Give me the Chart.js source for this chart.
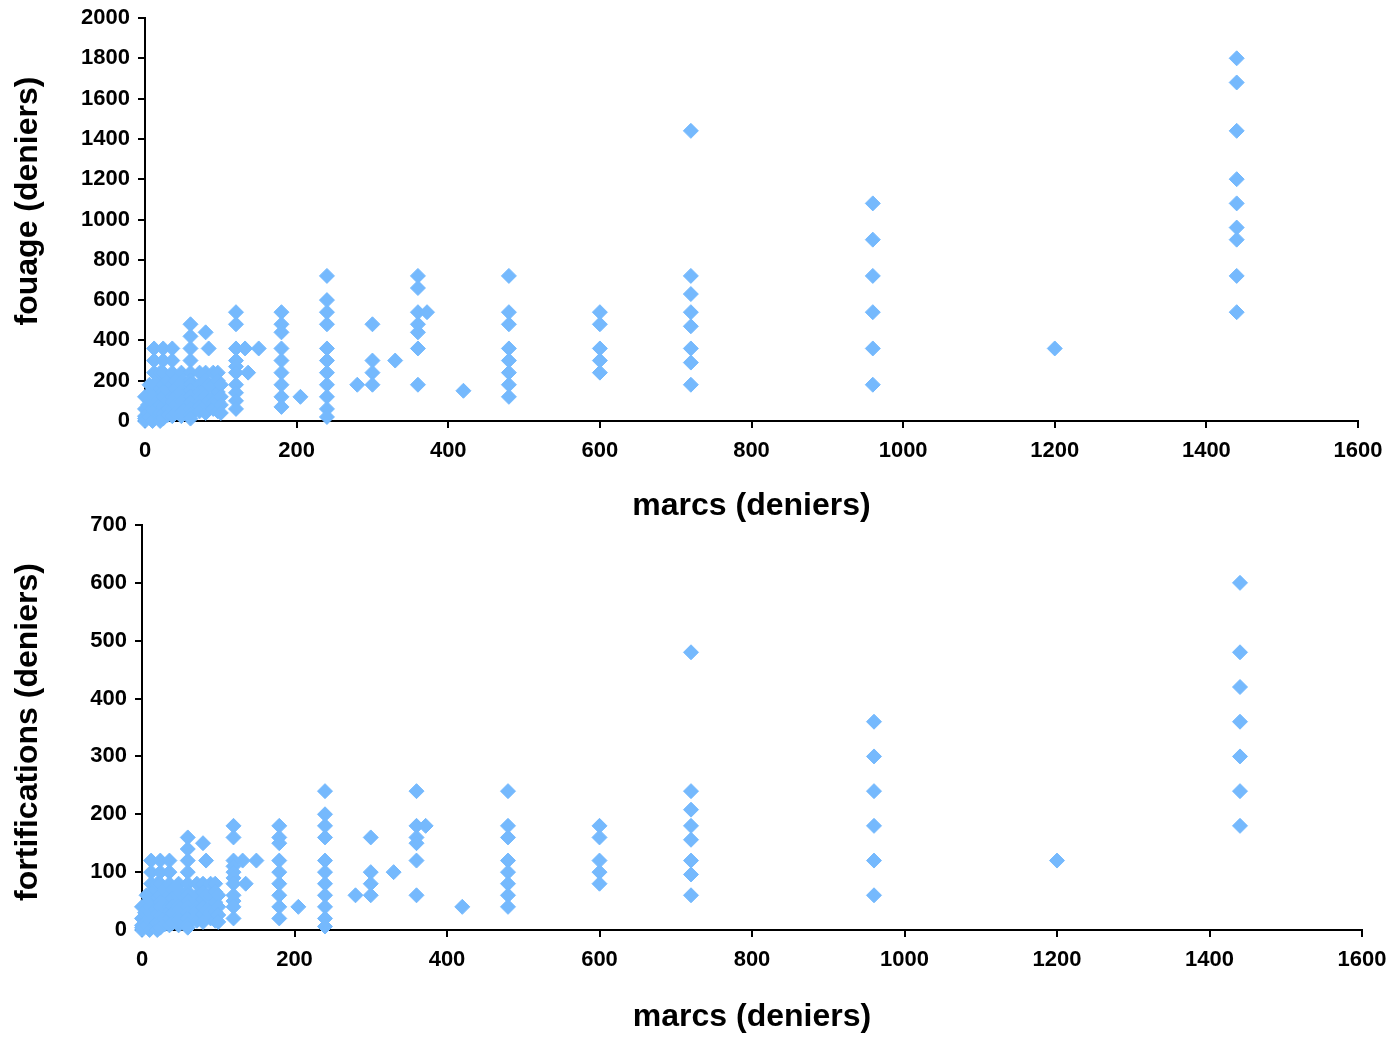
<!DOCTYPE html>
<html>
<head>
<meta charset="utf-8">
<script src="https://cdn.jsdelivr.net/npm/chart.js@4.4.1/dist/chart.umd.min.js"></script>
<style>
  html, body { margin: 0; padding: 0; background: #fff; }
  body { width: 1391px; height: 1037px; position: relative; overflow: hidden; }
  #c1 { position: absolute; left: 0; top: 0; width: 1391px; height: 530px; }
  #c2 { position: absolute; left: 0; top: 500px; width: 1391px; height: 537px; }
</style>
</head>
<body>
<canvas id="c1" width="1391" height="530"></canvas>
<canvas id="c2" width="1391" height="537"></canvas>
<script>
// ---------- DATA ----------
const xTicks = [0, 200, 400, 600, 800, 1000, 1200, 1400, 1600];
const fouageTicks = [0, 200, 400, 600, 800, 1000, 1200, 1400, 1600, 1800, 2000];
const fortTicks = [0, 100, 200, 300, 400, 500, 600, 700];

// marcs values (deniers) of each column of points, top chart
const marcsTop = [0, 4, 6, 10, 12, 18, 20, 24, 30, 36, 40, 48, 50, 60, 72, 80, 84, 90, 96, 100,
  120, 132, 136, 150, 180, 205, 240, 280, 300, 330, 360, 372, 420, 480, 600, 720, 960, 1200, 1440];
// fouage values (deniers) for each marcs column above
const fouage = [
  [120, 60, 24, 12, 0],
  [80, 40],
  [180, 100, 20],
  [150, 60, 0],
  [360, 300, 240, 180, 120, 90, 48],
  [200, 100, 30],
  [240, 160, 80, 40, 0],
  [360, 300, 240, 180, 144, 120, 72, 36, 12],
  [200, 150, 100, 60, 30],
  [360, 300, 240, 180, 120, 96, 60, 24],
  [200, 160, 120, 80, 40],
  [240, 180, 144, 120, 96, 72, 48, 24],
  [200, 100, 50],
  [480, 420, 360, 300, 240, 200, 180, 150, 120, 90, 60, 30, 12],
  [240, 180, 144, 120, 96, 72, 48],
  [440, 240, 200, 160, 120, 80, 40],
  [360, 180, 100],
  [240, 180, 120, 90, 60],
  [240, 200, 144, 96, 48],
  [180, 120, 80, 40],
  [540, 480, 360, 300, 270, 240, 180, 140, 100, 60],
  [360],
  [240],
  [360],
  [540, 480, 440, 360, 300, 240, 180, 120, 70],
  [120],
  [720, 600, 540, 480, 360, 300, 240, 180, 120, 60, 20],
  [180],
  [480, 300, 240, 180],
  [300],
  [720, 660, 540, 480, 440, 360, 180],
  [540],
  [150],
  [720, 540, 480, 360, 300, 240, 180, 120],
  [540, 480, 360, 300, 240],
  [1440, 720, 630, 540, 470, 360, 290, 180],
  [1080, 900, 720, 540, 360, 180],
  [360],
  [1800, 1680, 1440, 1200, 1080, 960, 900, 720, 540]
];

// marcs values (deniers) of each column of points, bottom chart
const marcsBottom = [0, 4, 6, 10, 12, 18, 20, 24, 30, 36, 40, 48, 50, 60, 72, 80, 84, 90, 96, 100,
  120, 132, 136, 150, 180, 205, 240, 280, 300, 330, 360, 372, 420, 480, 600, 720, 960, 1200, 1440];
// fortifications values (deniers) for each marcs column above
const fortifications = [
  [40, 20, 8, 4, 0],
  [30, 12],
  [60, 36, 8],
  [50, 20, 0],
  [120, 100, 80, 60, 40, 30, 16],
  [70, 36, 10],
  [80, 56, 28, 12, 0],
  [120, 100, 80, 60, 48, 40, 24, 12, 4],
  [70, 50, 36, 20, 10],
  [120, 100, 80, 60, 40, 32, 20, 8],
  [70, 54, 40, 28, 12],
  [80, 60, 48, 40, 32, 24, 16, 8],
  [66, 36, 16],
  [160, 140, 120, 100, 80, 66, 60, 50, 40, 30, 20, 10, 4],
  [80, 60, 48, 40, 32, 24, 16],
  [150, 80, 66, 54, 40, 28, 14],
  [120, 60, 34],
  [80, 60, 40, 30, 20],
  [80, 66, 48, 32, 16],
  [60, 40, 26, 14],
  [180, 160, 120, 110, 100, 90, 80, 60, 50, 40, 20],
  [120],
  [80],
  [120],
  [180, 160, 150, 120, 100, 80, 60, 40, 20],
  [40],
  [240, 200, 180, 160, 120, 100, 80, 60, 40, 20, 6],
  [60],
  [160, 100, 80, 60],
  [100],
  [240, 180, 160, 150, 120, 60],
  [180],
  [40],
  [240, 180, 160, 120, 100, 80, 60, 40],
  [180, 160, 120, 100, 80],
  [480, 240, 208, 180, 156, 120, 96, 60],
  [360, 300, 240, 180, 120, 60],
  [120],
  [600, 480, 420, 360, 300, 240, 180]
];

// ---------- BUILD ----------
function toPoints(xs, ys) {
  const pts = [];
  xs.forEach((x, i) => ys[i].forEach(y => pts.push({ x: x, y: y })));
  return pts;
}

const POINT_COLOR = '#75B9FD';
const FONT_FAMILY = '"Liberation Sans", Arial, Helvetica, sans-serif';

const yTitlePlugin = {
  id: 'yTitle',
  afterDraw(chart, args, opts) {
    const ctx = chart.ctx;
    ctx.save();
    ctx.font = 'bold 32px ' + FONT_FAMILY;
    ctx.fillStyle = '#000';
    ctx.textAlign = 'center';
    ctx.textBaseline = 'middle';
    ctx.translate(opts.x, opts.y);
    ctx.rotate(-Math.PI / 2);
    ctx.fillText(opts.text, 0, 0);
    ctx.restore();
  }
};

function makeChart(canvasId, xs, ys, yTicks, cfg) {
  const yMax = yTicks[yTicks.length - 1];
  return new Chart(document.getElementById(canvasId), {
    type: 'scatter',
    data: {
      datasets: [{
        data: toPoints(xs, ys),
        pointStyle: 'rectRot',
        pointRadius: 7.5,
        pointHoverRadius: 7.5,
        backgroundColor: POINT_COLOR,
        borderColor: POINT_COLOR,
        borderWidth: 1,
        clip: false
      }]
    },
    options: {
      responsive: false,
      animation: false,
      events: [],
      layout: { padding: { top: cfg.padTop, right: cfg.padRight, left: 0, bottom: 0 } },
      plugins: {
        legend: { display: false },
        tooltip: { enabled: false },
        yTitle: { text: cfg.yTitle, x: cfg.yTitleX, y: cfg.yTitleY }
      },
      scales: {
        x: {
          type: 'linear',
          min: xTicks[0],
          max: xTicks[xTicks.length - 1],
          afterBuildTicks: s => { s.ticks = xTicks.map(v => ({ value: v })); },
          afterFit: s => { s.height = cfg.xAxisHeight; s.paddingLeft = 0; s.paddingRight = 0; },
          border: { color: '#000', width: 2 },
          grid: { display: true, drawOnChartArea: false, drawTicks: true, tickLength: 7, color: '#000', lineWidth: 2 },
          ticks: {
            color: '#000', padding: 10, maxRotation: 0,
            font: { family: FONT_FAMILY, size: 22, weight: 'bold' },
            callback: v => String(v)
          },
          title: {
            display: true,
            text: 'marcs (deniers)',
            color: '#000',
            font: { family: FONT_FAMILY, size: 32, weight: 'bold' },
            padding: { top: 0, bottom: cfg.xTitlePad }
          }
        },
        y: {
          type: 'linear',
          min: 0,
          max: yMax,
          afterBuildTicks: s => { s.ticks = yTicks.map(v => ({ value: v })); },
          afterFit: s => { s.width = cfg.yAxisWidth; s.paddingTop = 0; s.paddingBottom = 0; },
          border: { color: '#000', width: 2 },
          grid: { display: true, drawOnChartArea: false, drawTicks: true, tickLength: 7, color: '#000', lineWidth: 2 },
          ticks: {
            color: '#000', padding: 8,
            font: { family: FONT_FAMILY, size: 22, weight: 'bold' },
            callback: v => String(v)
          }
        }
      }
    },
    plugins: [yTitlePlugin]
  });
}

makeChart('c1', marcsTop, fouage, fouageTicks, {
  padTop: 18, padRight: 33, yAxisWidth: 145, xAxisHeight: 109, xTitlePad: 5,
  yTitle: 'fouage (deniers)', yTitleX: 28, yTitleY: 201
});

makeChart('c2', marcsBottom, fortifications, fortTicks, {
  padTop: 25, padRight: 29, yAxisWidth: 142, xAxisHeight: 107, xTitlePad: 1,
  yTitle: 'fortifications (deniers)', yTitleX: 28, yTitleY: 232
});
</script>
</body>
</html>
